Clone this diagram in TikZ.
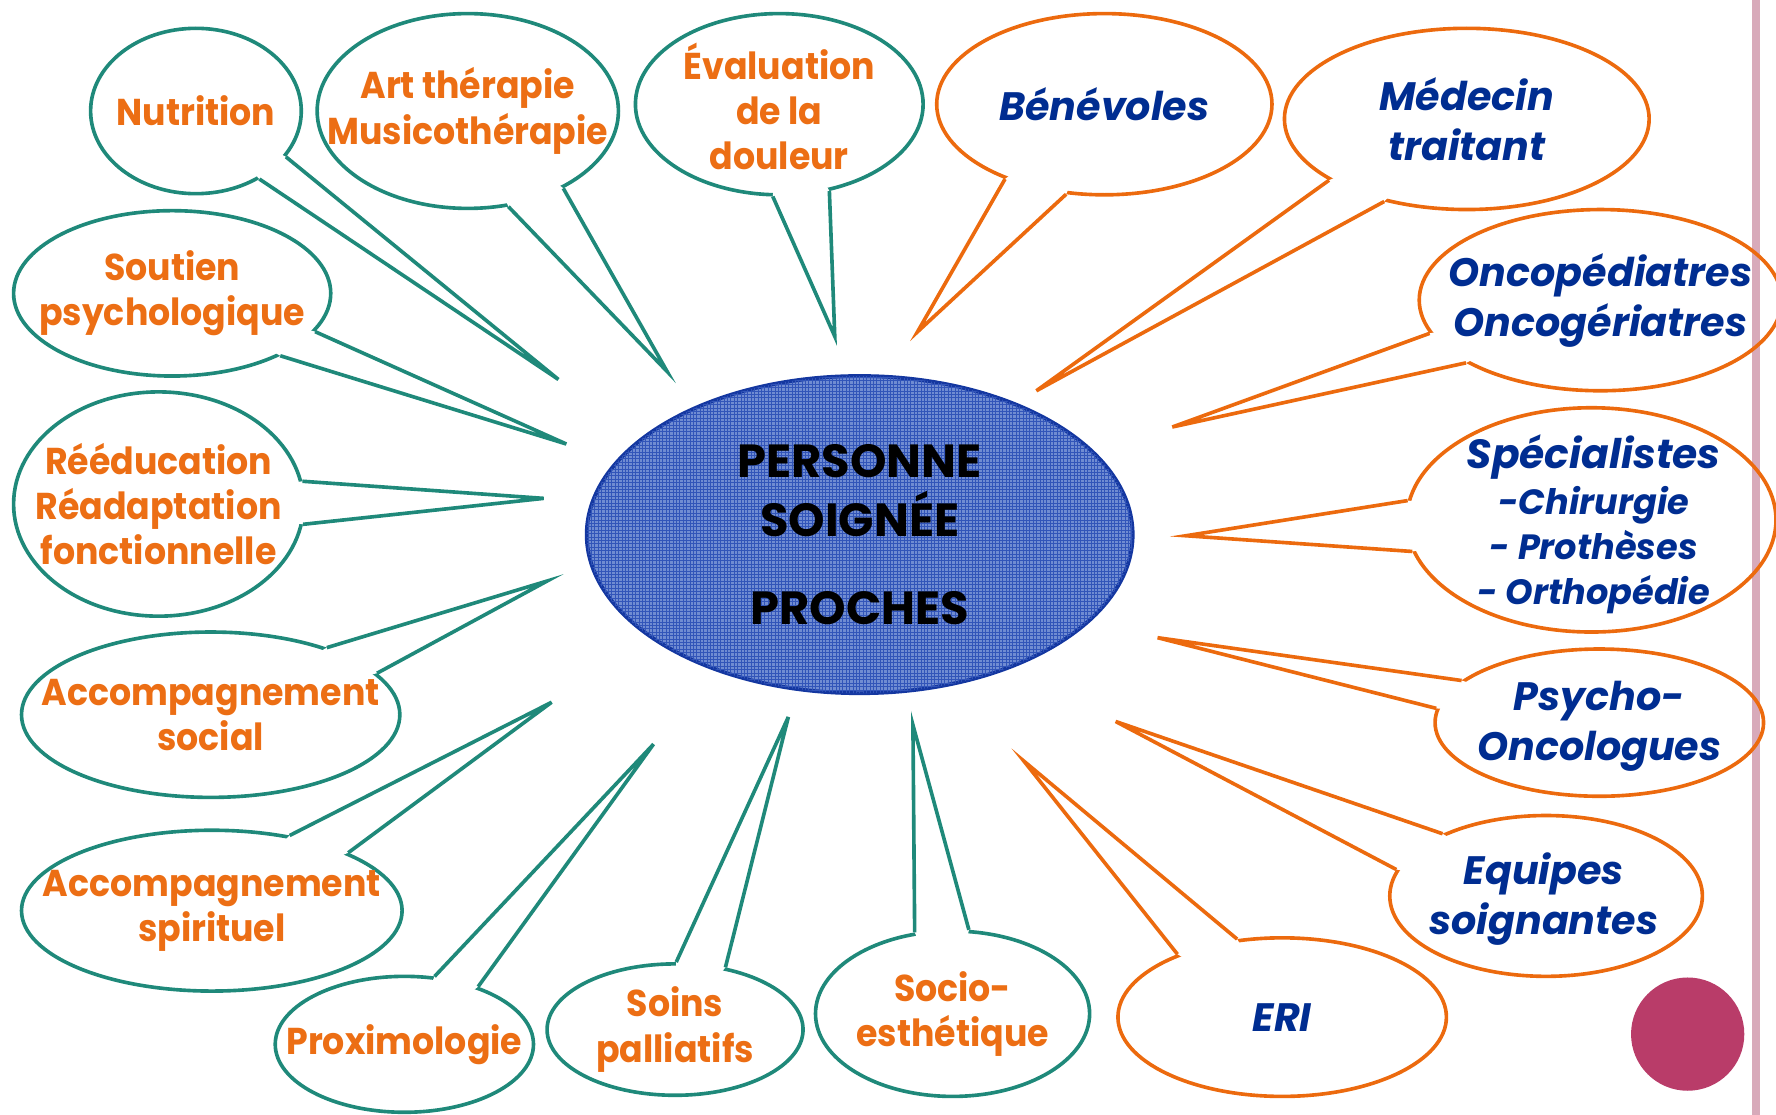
\documentclass[tikz,border=0pt]{standalone}
\usepackage{fontspec}
\setmainfont{Poppins}
\newfontfamily\narrowfont[FakeStretch=0.93]{Poppins}
\usetikzlibrary{shapes.geometric,patterns}
\definecolor{tealline}{RGB}{31,137,122}
\definecolor{orline}{RGB}{236,106,14}
\definecolor{ortext}{RGB}{236,110,20}
\definecolor{bltext}{RGB}{0,45,145}
\definecolor{heart}{RGB}{112,140,210}
\definecolor{heartline}{RGB}{20,55,160}
\definecolor{heartgrid}{RGB}{50,85,185}
\definecolor{dot}{RGB}{185,60,105}
\definecolor{band}{RGB}{216,170,186}
\tikzstyle{bubble} = [ellipse, line width=3.2pt, inner sep=0pt]
\tikzstyle{tbub} = [bubble, draw=tealline]
\tikzstyle{obub} = [bubble, draw=orline]
\tikzstyle{ttail} = [draw=tealline, line width=3.2pt]
\tikzstyle{otail} = [draw=orline, line width=3.2pt]
\tikzstyle{otxt} = [text=ortext, align=center, inner sep=0pt, font=\narrowfont\bfseries\fontsize{33}{40}\selectfont]
\tikzstyle{btxt} = [text=bltext, align=center, inner sep=0pt, font=\bfseries\itshape\fontsize{35}{44}\selectfont]

\begin{document}
\begin{tikzpicture}[x=1pt,y=-1pt]
    \tikzstyle{heart} = [ellipse, fill=heart, draw=heartline, line width=3.4pt,
        postaction={pattern=grid, pattern color=heartgrid},
        minimum width=482pt, minimum height=280pt, align=center,
        font=\bfseries\fontsize{41}{52}\selectfont]
    \useasboundingbox (0,0) rectangle (1568,984);
    \fill[band] (1547,0) rectangle (1554,984);

    \node[heart] (pat) at (759,472) {PERSONNE\\SOIGNÉE\\[25pt]PROCHES};

    \node[tbub, minimum width=186pt, minimum height=146pt] (nut) at (173,98) {};
    \node[tbub, minimum width=266pt, minimum height=172pt] (art) at (413,98) {};
    \node[tbub, minimum width=254pt, minimum height=160pt] (eva) at (688,92) {};
    \node[obub, minimum width=296pt, minimum height=160pt] (ben) at (975,92) {};
    \node[obub, minimum width=322pt, minimum height=160pt] (med) at (1295,105) {};
    \node[obub, minimum width=320pt, minimum height=160pt] (onc) at (1413,265) {};
    \node[obub, minimum width=326pt, minimum height=198pt] (spe) at (1405,459) {};
    \node[obub, minimum width=290pt, minimum height=130pt] (psy) at (1412,638) {};
    \node[obub, minimum width=276pt, minimum height=142pt] (equ) at (1365,791) {};
    \node[obub, minimum width=290pt, minimum height=140pt] (eri) at (1132,898) {};
    \node[tbub, minimum width=242pt, minimum height=146pt] (soc) at (841,895) {};
    \node[tbub, minimum width=226pt, minimum height=116pt] (soi) at (596,909) {};
    \node[tbub, minimum width=228pt, minimum height=120pt] (pro) at (357,922) {};
    \node[tbub, minimum width=336pt, minimum height=142pt] (acp) at (187,804) {};
    \node[tbub, minimum width=334pt, minimum height=146pt] (acs) at (186,631) {};
    \node[tbub, minimum width=256pt, minimum height=198pt] (ree) at (140,445) {};
    \node[tbub, minimum width=280pt, minimum height=146pt] (sou) at (152,259) {};

    \coordinate (nutT) at (493,335);
    \coordinate (artT) at (589,328);
    \coordinate (evaT) at (737,297);
    \coordinate (benT) at (810,293);
    \coordinate (medT) at (915,345);
    \coordinate (oncT) at (1035,377);
    \coordinate (speT) at (1047,473);
    \coordinate (psyT) at (1022,563);
    \coordinate (equT) at (985,637);
    \coordinate (eriT) at (904,672);
    \coordinate (socT) at (806,640);
    \coordinate (soiT) at (696,633);
    \coordinate (proT) at (577,657);
    \coordinate (acpT) at (487,620);
    \coordinate (acsT) at (483,513);
    \coordinate (reeT) at (480,440);
    \coordinate (souT) at (500,392);

    \fill[white] (nut.center) -- (nut.-27) -- (nutT) -- (nut.-47) -- cycle;
    \draw[ttail] (nut.-27) -- (nutT) -- (nut.-47);
    \fill[white] (art.center) -- (art.-67) -- (artT) -- (art.-39) -- cycle;
    \draw[ttail] (art.-67) -- (artT) -- (art.-39);
    \fill[white] (eva.center) -- (eva.-94) -- (evaT) -- (eva.-60) -- cycle;
    \draw[ttail] (eva.-94) -- (evaT) -- (eva.-60);
    \fill[white] (ben.center) -- (ben.-143) -- (benT) -- (ben.-113) -- cycle;
    \draw[otail] (ben.-143) -- (benT) -- (ben.-113);
    \fill[white] (med.center) -- (med.-156) -- (medT) -- (med.-135) -- cycle;
    \draw[otail] (med.-156) -- (medT) -- (med.-135);
    \fill[white] (onc.center) -- (onc.-169) -- (oncT) -- (onc.-155) -- cycle;
    \draw[otail] (onc.-169) -- (oncT) -- (onc.-155);
    \fill[white] (spe.center) -- (spe.174) -- (speT) -- (spe.-170) -- cycle;
    \draw[otail] (spe.174) -- (speT) -- (spe.-170);
    \fill[white] (psy.center) -- (psy.163) -- (psyT) -- (psy.175) -- cycle;
    \draw[otail] (psy.163) -- (psyT) -- (psy.175);
    \fill[white] (equ.center) -- (equ.149) -- (equT) -- (equ.170) -- cycle;
    \draw[otail] (equ.149) -- (equT) -- (equ.170);
    \fill[white] (eri.center) -- (eri.149) -- (eriT) -- (eri.120) -- cycle;
    \draw[otail] (eri.149) -- (eriT) -- (eri.120);
    \fill[white] (soc.center) -- (soc.115) -- (socT) -- (soc.79) -- cycle;
    \draw[ttail] (soc.115) -- (socT) -- (soc.79);
    \fill[white] (soi.center) -- (soi.89) -- (soiT) -- (soi.51) -- cycle;
    \draw[ttail] (soi.89) -- (soiT) -- (soi.51);
    \fill[white] (pro.center) -- (pro.66) -- (proT) -- (pro.38) -- cycle;
    \draw[ttail] (pro.66) -- (proT) -- (pro.38);
    \fill[white] (acp.center) -- (acp.44) -- (acpT) -- (acp.23) -- cycle;
    \draw[ttail] (acp.44) -- (acpT) -- (acp.23);
    \fill[white] (acs.center) -- (acs.30) -- (acsT) -- (acs.14) -- cycle;
    \draw[ttail] (acs.30) -- (acsT) -- (acs.14);
    \fill[white] (ree.center) -- (ree.9) -- (reeT) -- (ree.-8) -- cycle;
    \draw[ttail] (ree.9) -- (reeT) -- (ree.-8);
    \fill[white] (sou.center) -- (sou.-15) -- (souT) -- (sou.-30) -- cycle;
    \draw[ttail] (sou.-15) -- (souT) -- (sou.-30);

    \node[circle, fill=dot, minimum size=100pt, inner sep=0pt] (rond) at (1490,913) {};

    \node[otxt] (nutL) at (nut) {Nutrition};
    \node[otxt] (artL) at (art) {Art thérapie\\Musicothérapie};
    \node[otxt] (evaL) at (688,94) {Évaluation\\de la\\douleur};
    \node[btxt] (benL) at (ben) {Bénévoles};
    \node[btxt] (medL) at (med) {Médecin\\traitant};
    \node[btxt] (oncL) at (onc) {Oncopédiatres\\Oncogériatres};
    \node[btxt, font=\bfseries\itshape\fontsize{31}{40}\selectfont] (speL) at (1407,463)
        {{\fontsize{36}{40}\selectfont Spécialistes}\\-Chirurgie\\- Prothèses\\- Orthopédie};
    \node[btxt] (psyL) at (1412,641) {Psycho-\\Oncologues};
    \node[btxt] (equL) at (1363,794) {Equipes\\soignantes};
    \node[btxt] (eriL) at (eri) {ERI};
    \node[otxt] (socL) at (soc) {Socio-\\esthétique};
    \node[otxt] (soiL) at (soi) {Soins\\palliatifs};
    \node[otxt] (proL) at (pro) {Proximologie};
    \node[otxt] (acpL) at (acp) {Accompagnement\\spirituel};
    \node[otxt] (acsL) at (acs) {Accompagnement\\social};
    \node[otxt] (reeL) at (ree) {Rééducation\\Réadaptation\\fonctionnelle};
    \node[otxt] (souL) at (sou) {Soutien\\psychologique};
\end{tikzpicture}
\end{document}
